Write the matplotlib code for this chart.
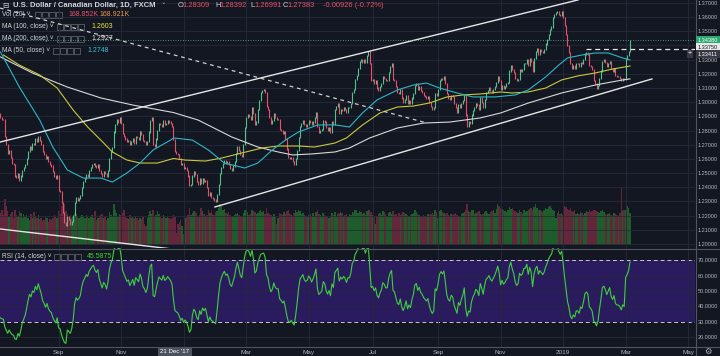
import numpy as np
import matplotlib.pyplot as plt
import pandas as pd
from matplotlib.patches import Rectangle

plt.rcParams['font.family'] = ['Liberation Sans', 'DejaVu Sans']

# daily closes, one list per month
c_2017_07 = [1.2920, 1.2890, 1.2880, 1.2875, 1.2760, 1.2700, 1.2640, 1.2660, 1.2610, 1.2570,
             1.2560, 1.2480, 1.2470, 1.2500, 1.2450, 1.2480, 1.2520, 1.2540]
c_2017_08 = [1.2560, 1.2600, 1.2650, 1.2690, 1.2670, 1.2710, 1.2700, 1.2740, 1.2720, 1.2760,
             1.2730, 1.2700, 1.2650, 1.2630, 1.2600, 1.2620, 1.2580, 1.2560, 1.2550, 1.2510,
             1.2480, 1.2460, 1.2480]
c_2017_09 = [1.2380, 1.2370, 1.2290, 1.2220, 1.2150, 1.2130, 1.2190, 1.2170, 1.2140, 1.2160,
             1.2200, 1.2290, 1.2330, 1.2310, 1.2320, 1.2340, 1.2400, 1.2440, 1.2460, 1.2490,
             1.2480]
c_2017_10 = [1.2520, 1.2540, 1.2560, 1.2570, 1.2550, 1.2540, 1.2560, 1.2520, 1.2500, 1.2480,
             1.2510, 1.2500, 1.2480, 1.2520, 1.2600, 1.2650, 1.2680, 1.2790, 1.2840, 1.2880,
             1.2860, 1.2890]
c_2017_11 = [1.2850, 1.2780, 1.2760, 1.2740, 1.2720, 1.2730, 1.2700, 1.2720, 1.2740, 1.2710,
             1.2760, 1.2750, 1.2740, 1.2790, 1.2770, 1.2730, 1.2720, 1.2700, 1.2720, 1.2790,
             1.2870, 1.2890]
c_2017_12 = [1.2700, 1.2690, 1.2740, 1.2800, 1.2850, 1.2840, 1.2830, 1.2870, 1.2840, 1.2850,
             1.2870, 1.2860, 1.2850, 1.2831, 1.2738, 1.2650, 1.2640, 1.2630, 1.2600, 1.2560,
             1.2570]
c_2018_01 = [1.2530, 1.2540, 1.2520, 1.2480, 1.2410, 1.2420, 1.2480, 1.2510, 1.2490, 1.2440,
             1.2420, 1.2460, 1.2430, 1.2460, 1.2440, 1.2450, 1.2400, 1.2340, 1.2360, 1.2330,
             1.2320, 1.2310, 1.2300]
c_2018_02 = [1.2350, 1.2420, 1.2500, 1.2540, 1.2570, 1.2590, 1.2570, 1.2580, 1.2560, 1.2530,
             1.2520, 1.2550, 1.2580, 1.2640, 1.2690, 1.2660, 1.2630, 1.2620, 1.2700, 1.2820]
c_2018_03 = [1.2890, 1.2910, 1.2900, 1.2880, 1.2960, 1.2920, 1.2840, 1.2860, 1.2950, 1.3010,
             1.3070, 1.3080, 1.3090, 1.3070, 1.2970, 1.2950, 1.2890, 1.2850, 1.2870, 1.2920,
             1.2890, 1.2880]
c_2018_04 = [1.2880, 1.2810, 1.2800, 1.2780, 1.2790, 1.2740, 1.2670, 1.2610, 1.2600, 1.2610,
             1.2580, 1.2560, 1.2600, 1.2660, 1.2750, 1.2830, 1.2850, 1.2870, 1.2840, 1.2830,
             1.2840]
c_2018_05 = [1.2870, 1.2860, 1.2840, 1.2860, 1.2890, 1.2930, 1.2830, 1.2790, 1.2800, 1.2810,
             1.2870, 1.2860, 1.2820, 1.2800, 1.2820, 1.2790, 1.2860, 1.2840, 1.2950, 1.2970,
             1.2990, 1.2920, 1.2950]
c_2018_06 = [1.2940, 1.2960, 1.2950, 1.2930, 1.2960, 1.2960, 1.2990, 1.3070, 1.3090, 1.3160,
             1.3190, 1.3240, 1.3290, 1.3300, 1.3280, 1.3300, 1.3280, 1.3330, 1.3360, 1.3270,
             1.3150]
c_2018_07 = [1.3160, 1.3130, 1.3150, 1.3100, 1.3080, 1.3110, 1.3130, 1.3180, 1.3170, 1.3150,
             1.3150, 1.3210, 1.3250, 1.3270, 1.3160, 1.3150, 1.3110, 1.3070, 1.3060, 1.3090,
             1.3030, 1.3000]
c_2018_08 = [1.3020, 1.3050, 1.2990, 1.3010, 1.2990, 1.3030, 1.3060, 1.3120, 1.3130, 1.3090,
             1.3110, 1.3080, 1.3070, 1.3050, 1.3040, 1.3030, 1.3040, 1.3000, 1.2970, 1.2950,
             1.2960, 1.3060, 1.3050]
c_2018_09 = [1.3090, 1.3150, 1.3170, 1.3160, 1.3180, 1.3130, 1.3060, 1.3030, 1.3020, 1.3050,
             1.3040, 1.2990, 1.2960, 1.2930, 1.2980, 1.2960, 1.2990, 1.3010, 1.3050, 1.2910]
c_2018_10 = [1.2830, 1.2860, 1.2850, 1.2910, 1.2940, 1.2960, 1.2990, 1.2980, 1.2950, 1.3030,
             1.3000, 1.2960, 1.3020, 1.3070, 1.3080, 1.3100, 1.3080, 1.3070, 1.3090, 1.3110,
             1.3140, 1.3180, 1.3150]
c_2018_11 = [1.3090, 1.3120, 1.3100, 1.3110, 1.3130, 1.3140, 1.3220, 1.3260, 1.3230, 1.3210,
             1.3170, 1.3150, 1.3160, 1.3230, 1.3220, 1.3230, 1.3270, 1.3270, 1.3300, 1.3260,
             1.3310, 1.3290]
c_2018_12 = [1.3220, 1.3310, 1.3360, 1.3380, 1.3340, 1.3370, 1.3360, 1.3350, 1.3370, 1.3410,
             1.3440, 1.3480, 1.3510, 1.3530, 1.3600, 1.3620, 1.3630, 1.3640, 1.3620, 1.3610,
             1.3640]
c_2019_01 = [1.3600, 1.3540, 1.3480, 1.3400, 1.3350, 1.3270, 1.3240, 1.3260, 1.3240, 1.3270,
             1.3270, 1.3250, 1.3280, 1.3270, 1.3300, 1.3340, 1.3350, 1.3340, 1.3260, 1.3250,
             1.3230, 1.3150, 1.3130]
c_2019_02 = [1.3100, 1.3120, 1.3170, 1.3220, 1.3290, 1.3300, 1.3280, 1.3250, 1.3270, 1.3290,
             1.3240, 1.3220, 1.3240, 1.3190, 1.3180, 1.3180, 1.3170, 1.3150, 1.3170, 1.3160]
c_2019_03 = [1.3310, 1.3330, 1.3360, 1.3438]
first_open = 1.2950

# volume in thousands, one list per month
v_2017_07 = [210, 180, 195, 170, 260, 220, 190, 160, 175, 185, 150, 200, 170, 165, 190, 180, 150, 175]
v_2017_08 = [160, 170, 150, 140, 175, 150, 185, 165, 155, 170, 145, 150, 135, 140, 160, 150, 130,
             145, 140, 155, 170, 165, 150]
v_2017_09 = [190, 175, 220, 240, 230, 190, 175, 160, 170, 150, 165, 180, 175, 160, 150, 165, 170,
             160, 155, 170, 160]
v_2017_10 = [150, 160, 170, 155, 190, 140, 150, 165, 170, 175, 150, 160, 140, 150, 185, 170, 160,
             230, 200, 180, 160, 175]
v_2017_11 = [170, 180, 200, 160, 150, 145, 170, 155, 160, 150, 165, 155, 140, 150, 145, 160, 120,
             110, 150, 170, 190, 175]
v_2017_12 = [195, 160, 170, 190, 175, 160, 150, 170, 165, 150, 160, 150, 145, 155, 169, 160, 70,
             120, 130, 140, 110]
v_2018_01 = [60, 150, 160, 170, 210, 170, 180, 190, 185, 180, 160, 170, 210, 190, 175, 165, 170,
             195, 180, 190, 175, 170, 185]
v_2018_02 = [190, 210, 230, 220, 200, 205, 180, 175, 185, 170, 160, 165, 170, 175, 180, 170, 165,
             160, 180, 200]
v_2018_03 = [195, 185, 170, 175, 200, 190, 185, 175, 180, 190, 200, 185, 190, 175, 210, 180, 175,
             170, 165, 175, 160, 120]
v_2018_04 = [150, 180, 175, 170, 185, 175, 190, 200, 175, 170, 165, 180, 195, 185, 200, 190, 175,
             180, 170, 165, 160]
v_2018_05 = [170, 175, 165, 180, 160, 185, 200, 175, 170, 165, 180, 170, 165, 160, 150, 165, 180,
             170, 185, 160, 175, 180, 185]
v_2018_06 = [180, 165, 170, 175, 160, 175, 170, 185, 180, 200, 195, 180, 190, 185, 175, 180, 170,
             190, 200, 195, 185]
v_2018_07 = [170, 160, 120, 165, 175, 180, 170, 190, 185, 175, 165, 180, 185, 175, 190, 170, 175,
             165, 180, 170, 175, 185]
v_2018_08 = [180, 175, 170, 165, 170, 175, 180, 200, 185, 175, 170, 165, 160, 170, 165, 160, 175,
             170, 175, 180, 170, 195, 185]
v_2018_09 = [150, 190, 200, 185, 180, 175, 180, 170, 165, 175, 170, 175, 180, 170, 165, 160, 175,
             180, 185, 195]
v_2018_10 = [230, 190, 185, 195, 200, 175, 180, 185, 190, 175, 170, 175, 185, 190, 180, 175, 185,
             190, 195, 180, 205, 230, 220]
v_2018_11 = [210, 205, 195, 190, 185, 200, 215, 205, 210, 200, 190, 185, 180, 195, 185, 175, 200,
             185, 190, 195, 205, 210]
v_2018_12 = [200, 215, 230, 210, 195, 200, 190, 185, 195, 210, 205, 215, 220, 210, 200, 190, 150,
             180, 190, 175, 180]
v_2019_01 = [170, 220, 215, 205, 200, 210, 190, 185, 195, 175, 180, 175, 185, 180, 170, 180, 190,
             185, 195, 185, 190, 200, 195]
v_2019_02 = [190, 185, 180, 190, 195, 185, 175, 170, 175, 180, 170, 165, 180, 175, 170, 165, 180,
             330, 190, 200]
v_2019_03 = [195, 220, 210, 180]

# moving averages: bar index and value
ma50_x = [1, 14, 28, 37, 47, 58, 70, 78, 88, 97, 106, 118, 120, 133, 144, 155, 169, 178, 188, 197,
          206, 219, 231, 241, 250, 260, 274, 285, 294, 303, 315, 326, 341, 355, 364, 376, 385, 391,
          401, 410, 419, 429, 434]
ma50_y = [1.3354, 1.3107, 1.2874, 1.2684, 1.2522, 1.2465, 1.2465, 1.2437, 1.2501, 1.2571, 1.2663,
          1.2733, 1.2748, 1.2733, 1.2663, 1.2571, 1.2536, 1.2571, 1.2663, 1.2733, 1.2790, 1.2839,
          1.2840, 1.2825, 1.2924, 1.3016, 1.3086, 1.3121, 1.3135, 1.3100, 1.3065, 1.3037, 1.3037,
          1.3051, 1.3086, 1.3178, 1.3262, 1.3312, 1.3333, 1.3347, 1.3347, 1.3312, 1.3298]
ma100_x = [3, 14, 28, 40, 51, 61, 70, 78, 88, 97, 109, 120, 128, 142, 153, 167, 181, 192, 206, 217,
           231, 239, 250, 262, 274, 285, 296, 308, 319, 331, 345, 353, 364, 376, 387, 398, 410, 422,
           434]
ma100_y = [1.3333, 1.3262, 1.3192, 1.3100, 1.2945, 1.2825, 1.2733, 1.2649, 1.2592, 1.2571, 1.2571,
           1.2603, 1.2592, 1.2585, 1.2606, 1.2642, 1.2677, 1.2691, 1.2691, 1.2684, 1.2712, 1.2748,
           1.2839, 1.2924, 1.2966, 1.2973, 1.2994, 1.3037, 1.3051, 1.3058, 1.3072, 1.3065, 1.3072,
           1.3100, 1.3157, 1.3185, 1.3206, 1.3234, 1.3255]
ma200_x = [1, 23, 47, 70, 92, 120, 137, 160, 178, 192, 202, 215, 231, 241, 255, 274, 292, 310, 331,
           345, 364, 387, 410, 429, 434]
ma200_y = [1.3319, 1.3206, 1.3107, 1.3030, 1.2980, 1.2927, 1.2874, 1.2755, 1.2684, 1.2649, 1.2628,
           1.2635, 1.2649, 1.2677, 1.2748, 1.2818, 1.2853, 1.2860, 1.2889, 1.2924, 1.2994, 1.3065,
           1.3121, 1.3157, 1.3164]

# hand-drawn lines on the chart (bar index, price)
chan_hi_x, chan_hi_y = [0.7, 398.2], [1.2719, 1.3721]
chan_lo_x, chan_lo_y = [148.5, 449.1], [1.2261, 1.3164]
old_x, old_y = [0.7, 119.0], [1.2106, 1.1965]
dash_x, dash_y = [0.7, 294.4], [1.3664, 1.2853]
level_price, level_start = 1.3375, 403.7
last_price = 1.34380

tick_dates = ['2017-09-01', '2017-11-01', '2018-01-01', '2018-03-01', '2018-05-01', '2018-07-02',
              '2018-09-03', '2018-11-01', '2019-01-01', '2019-03-01', '2019-05-01']
tick_labels = ['Sep', 'Nov', '', 'Mar', 'May', 'Jul', 'Sep', 'Nov', '2019', 'Mar', 'May']

closes = (c_2017_07 + c_2017_08 + c_2017_09 + c_2017_10 + c_2017_11 + c_2017_12 + c_2018_01 +
          c_2018_02 + c_2018_03 + c_2018_04 + c_2018_05 + c_2018_06 + c_2018_07 + c_2018_08 +
          c_2018_09 + c_2018_10 + c_2018_11 + c_2018_12 + c_2019_01 + c_2019_02 + c_2019_03)
vols = (v_2017_07 + v_2017_08 + v_2017_09 + v_2017_10 + v_2017_11 + v_2017_12 + v_2018_01 +
        v_2018_02 + v_2018_03 + v_2018_04 + v_2018_05 + v_2018_06 + v_2018_07 + v_2018_08 +
        v_2018_09 + v_2018_10 + v_2018_11 + v_2018_12 + v_2019_01 + v_2019_02 + v_2019_03)
closes = np.array(closes)
vols = np.array(vols)
opens = np.concatenate([[first_open], closes[:-1]])
n = len(closes)
idx = np.arange(n)
dates = pd.bdate_range('2017-07-06', '2019-05-31')
tick_pos = [dates.get_loc(pd.Timestamp(d)) for d in tick_dates]

# RSI 14 (Wilder)
ag, al = 0.0020, 0.0037
rsi = []
for d in closes - opens:
    ag = (ag * 13 + max(d, 0)) / 14
    al = (al * 13 + max(-d, 0)) / 14
    rsi.append(100 - 100 / (1 + ag / al))
rsi = np.array(rsi)

BG = '#131722'
GRID = '#252a3a'
TXT = '#b2b5be'
UP, DN = '#53c08e', '#e9506a'
VUP, VDN = '#1f5c2c', '#64263a'

fig = plt.figure(figsize=(7.2, 3.56), dpi=100, facecolor=BG)


def fx(p):
    return p / 720


def fy(p):
    return 1 - p / 356


axv = fig.add_axes([0, fy(248), fx(695), 248 / 356])
ax = fig.add_axes([0, fy(248), fx(695), 248 / 356], sharex=axv)
axr = fig.add_axes([0, fy(347), fx(695), 99 / 356], sharex=axv)
axv.set_zorder(0)
ax.set_zorder(1)
axv.set_facecolor(BG)
ax.set_facecolor('none')
axr.set_facecolor(BG)
for a in (axv, ax, axr):
    for s in a.spines.values():
        s.set_visible(False)

# volume
up = closes >= opens
axv.bar(idx, vols, width=1.0, color=np.where(up, VUP, VDN), linewidth=0)
axv.set_ylim(-17, 1385)
axv.set_yticks([])
axv.tick_params(axis='x', bottom=False, labelbottom=False)

# candles
hi = np.maximum(opens, closes) + 0.0004
lo = np.minimum(opens, closes) - 0.0004
ax.vlines(idx, lo, hi, colors=np.where(up, UP, DN), linewidth=0.8)

# moving averages
ax.plot(ma200_x, ma200_y, color='#d8d8d8', lw=0.8)
ax.plot(ma100_x, ma100_y, color='#c9c93a', lw=0.8)
ax.plot(ma50_x, ma50_y, color='#2bb7c9', lw=0.8)

# drawings
ax.plot(chan_hi_x, chan_hi_y, color='#e6e6e6', lw=1.0)
ax.plot(chan_lo_x, chan_lo_y, color='#e6e6e6', lw=1.0)
ax.plot(old_x, old_y, color='#e6e6e6', lw=1.0)
ax.plot(dash_x, dash_y, color='#d0d0d0', lw=0.9, ls=(0, (3, 3)))
ax.plot([level_start, 480], [level_price, level_price], color='#e6e6e6', lw=0.9, ls=(0, (4, 3)))
ax.axhline(last_price, color='#53c08e', lw=0.6, ls=(0, (1, 2)))

ax.set_xlim(0.69, 478.7)
ax.set_ylim(1.19718, 1.37207)
pticks = np.round(np.arange(1.20, 1.3705, 0.01), 2)
ax.set_yticks(pticks)
ax.set_yticklabels([f'{v:.5f}' for v in pticks])
ax.yaxis.tick_right()
ax.tick_params(axis='y', length=0, pad=2.0, labelsize=4.0, labelcolor=TXT)
ax.tick_params(axis='x', bottom=False, labelbottom=False)
ax.set_xticks(tick_pos)
ax.grid(True, color=GRID, lw=0.6)

# RSI pane
axr.axhspan(30, 70, color='#2a1b5e', lw=0)
axr.axhline(70, color='#c8c8d0', lw=0.7, ls=(0, (4, 3)))
axr.axhline(30, color='#c8c8d0', lw=0.7, ls=(0, (4, 3)))
for v in (20, 40, 50, 60):
    axr.axhline(v, color=GRID, lw=0.6)
for p in tick_pos:
    axr.axvline(p, color=GRID, lw=0.6)
axr.plot(idx, rsi, color='#3fcf3f', lw=0.8)
axr.set_ylim(13.6, 77.9)
axr.set_yticks([20, 30, 40, 50, 60, 70])
axr.set_yticklabels([f'{v:.4f}' for v in [20, 30, 40, 50, 60, 70]])
axr.yaxis.tick_right()
axr.tick_params(axis='y', length=0, pad=2.0, labelsize=4.0, labelcolor=TXT)
axr.set_xticks(tick_pos)
axr.set_xticklabels(tick_labels)
axr.tick_params(axis='x', length=0, pad=2.5, labelsize=4.6, labelcolor=TXT)

# pane separators
sep = '#50545f'
fig.add_artist(plt.Line2D([0, 1], [fy(248.5), fy(248.5)], color=sep, lw=0.8))
fig.add_artist(plt.Line2D([0, 1], [fy(347), fy(347)], color=sep, lw=0.8))
fig.add_artist(plt.Line2D([fx(695.5), fx(695.5)], [0, 1], color=sep, lw=0.8))


def txt(px, py, s, color='#d1d4dc', size=4.8, **kw):
    fig.text(fx(px), fy(py), s, color=color, fontsize=size, va='center', ha='left', **kw)


def icons(px, py):
    for k in range(4):
        fig.add_artist(Rectangle((fx(px + k * 7), fy(py + 3)), fx(6), 6 / 356,
                                 transform=fig.transFigure, fill=False, ec='#6a6d78', lw=0.5))


# legends
txt(2, 5, '⊟', size=5.5, family=['DejaVu Sans'])
txt(13, 5.5, 'U.S. Dollar / Canadian Dollar, 1D, FXCM', size=5.5, weight='bold')
txt(161, 5.5, '˅', size=5, family=['DejaVu Sans'])
ohlc = [('O', '1.28309', 178), ('H', '1.28392', 215), ('L', '1.26991', 250), ('C', '1.27383', 283)]
for lab, val, px in ohlc:
    txt(px, 5.5, lab, size=5.4)
    txt(px + 4.6, 5.5, val, color='#e9506a', size=5.4)
txt(323, 5.5, '-0.00926 (-0.72%)', color='#e9506a', size=5.4)

txt(2, 15, 'Vol (20) ˅', size=4.8)
icons(35, 15)
txt(68, 15, '168.852K', color='#e9506a', size=5.0)
txt(99, 15, '168.921K', color='#ef9445', size=5.0)

txt(2, 27, 'MA (100, close) ˅', size=4.8)
icons(57, 27)
txt(91, 27, '1.2603', color='#e8e83c', size=5.0)
txt(2, 39, 'MA (200, close) ˅', size=4.8)
icons(57, 39)
txt(91, 39, '1.2927', color='#e6e6e6', size=5.0)
txt(2, 51, 'MA (50, close) ˅', size=4.8)
icons(53, 51)
txt(87, 51, '1.2748', color='#2bc7d9', size=5.0)

txt(2, 257, 'RSI (14, close) ˅', size=4.8)
icons(54, 257)
txt(87, 257, '45.5875', color='#3fcf3f', size=5.0)

# price labels on the scale
fig.text(fx(698), fy(40), '1.34380', color='white', fontsize=4.0, va='center', ha='left',
         bbox=dict(boxstyle='square,pad=0.3', fc='#2aa872', ec='none'))
fig.text(fx(698), fy(47.5), '1.33750', color='#131722', fontsize=4.0, va='center', ha='left',
         bbox=dict(boxstyle='square,pad=0.3', fc='#e6e6e6', ec='none'))
fig.text(fx(698), fy(54), '1.33411', color='white', fontsize=4.0, va='center', ha='left',
         bbox=dict(boxstyle='square,pad=0.3', fc='#363a45', ec='none'))
fig.text(fx(690), fy(54), '+', color='white', fontsize=5, va='center', ha='center',
         bbox=dict(boxstyle='square,pad=0.12', fc='#363a45', ec='none'))

# crosshair date label
fig.text(fx(175), fy(351.5), "21 Dec '17", color='white', fontsize=4.4, va='center', ha='center',
         bbox=dict(boxstyle='square,pad=0.35', fc='#4c525e', ec='none'))
fig.text(fx(708), fy(351), '⚙', color=TXT, fontsize=6, va='center', ha='center',
         family=['DejaVu Sans'])

fig.savefig('out.png', dpi=100, facecolor=BG)
